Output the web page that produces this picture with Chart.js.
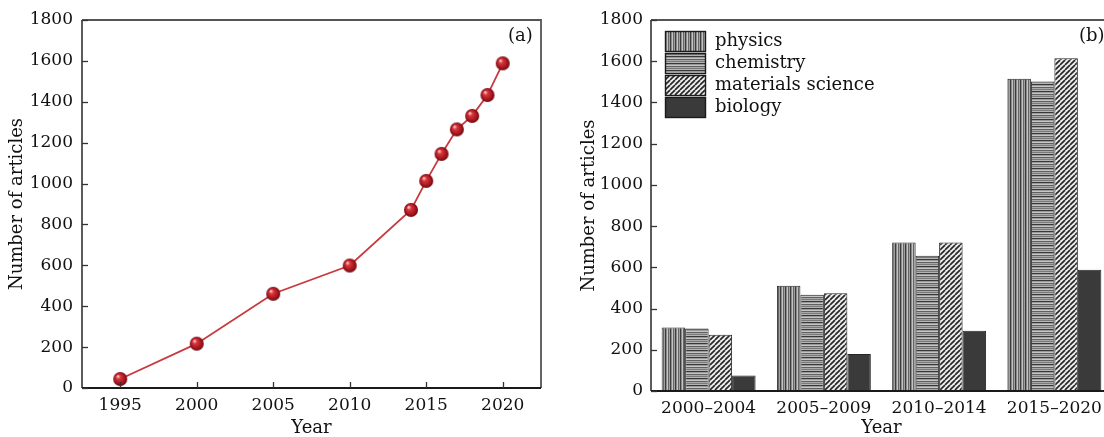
<!DOCTYPE html>
<html><head><meta charset="utf-8">
<script src="https://cdn.jsdelivr.net/npm/chart.js@4.4.0/dist/chart.umd.min.js"></script>
<style>
html,body{margin:0;padding:0;background:#fff;overflow:hidden;width:1104px;height:437px;}
#c1{position:absolute;left:0;top:0;}
#c2{position:absolute;left:560px;top:0;}
</style></head><body>
<canvas id="c1" width="550" height="437"></canvas>
<canvas id="c2" width="560" height="437"></canvas>
<script>
// ---- data: panel (a)
const years = [1995, 2000, 2005, 2010, 2014, 2015, 2016, 2017, 2018, 2019, 2020];
const articles = [44, 217, 461, 599, 871, 1013, 1145, 1265, 1331, 1433, 1588];
const yearTicks = [1995, 2000, 2005, 2010, 2015, 2020];
const articleTicks = [0, 200, 400, 600, 800, 1000, 1200, 1400, 1600, 1800];

// ---- data: panel (b)
const periods = ['2000–2004', '2005–2009', '2010–2014', '2015–2020'];
const physics = [308, 511, 721, 1515];
const chemistry = [303, 467, 656, 1502];
const materials = [273, 474, 720, 1615];
const biology = [75, 180, 292, 588];
const seriesNames = ['physics', 'chemistry', 'materials science', 'biology'];
const yAxisTitle = 'Number of articles';
const xAxisTitle = 'Year';

Chart.defaults.font.family = "'DejaVu Serif', serif";
Chart.defaults.font.size = 17;
Chart.defaults.color = '#111';

function tile(w, h, draw) {
  const c = document.createElement('canvas'); c.width = w; c.height = h;
  const g = c.getContext('2d'); draw(g);
  return g.createPattern(c, 'repeat');
}
const patPhysics = tile(5, 1, g => {
  const cols = ['#3c3c3c', '#8a8a8a', '#c4c4c4', '#666666', '#a0a0a0'];
  cols.forEach((c, i) => { g.fillStyle = c; g.fillRect(i, 0, 1, 1); });
});
const patChem = tile(1, 7, g => {
  const cols = ['#383838', '#9a9a9a', '#c6c6c6', '#606060', '#a8a8a8', '#7a7a7a', '#b4b4b4'];
  cols.forEach((c, i) => { g.fillStyle = c; g.fillRect(0, i, 1, 1); });
});
const patMat = tile(5, 5, g => {
  g.fillStyle = '#eeeeee'; g.fillRect(0, 0, 5, 5);
  g.strokeStyle = '#262626'; g.lineWidth = 1.7;
  for (let k = -1; k <= 1; k++) { g.beginPath(); g.moveTo(k * 5, 5); g.lineTo(k * 5 + 5, 0); g.stroke(); }
});
const fills = [patPhysics, patChem, patMat, '#3a3a3a'];

function sphere(r) {
  const s = 2 * r + 2; const c = document.createElement('canvas'); c.width = s; c.height = s;
  const g = c.getContext('2d'); const cx = s / 2, cy = s / 2;
  const grad = g.createRadialGradient(cx - r * 0.35, cy - r * 0.4, r * 0.08, cx, cy, r);
  grad.addColorStop(0, '#f7c4c4'); grad.addColorStop(0.25, '#d9363d');
  grad.addColorStop(0.75, '#a3141c'); grad.addColorStop(1, '#6a080d');
  g.fillStyle = grad; g.beginPath(); g.arc(cx, cy, r, 0, Math.PI * 2); g.fill();
  return c;
}

const framePlugin = {
  id: 'framePlug',
  afterDraw(chart, args, opts) {
    const ctx = chart.ctx, a = chart.chartArea;
    ctx.save();
    ctx.strokeStyle = '#555'; ctx.lineWidth = 1.8;
    ctx.beginPath(); ctx.moveTo(a.left, a.top); ctx.lineTo(a.right, a.top); ctx.lineTo(a.right, a.bottom); ctx.stroke();
    ctx.strokeStyle = '#333'; ctx.lineWidth = 1.6;
    ctx.beginPath(); ctx.moveTo(a.left, a.top); ctx.lineTo(a.left, a.bottom); ctx.stroke();
    ctx.strokeStyle = '#1a1a1a'; ctx.lineWidth = 2.2;
    ctx.beginPath(); ctx.moveTo(a.left, a.bottom); ctx.lineTo(a.right, a.bottom); ctx.stroke();
    ctx.strokeStyle = '#333'; ctx.lineWidth = 1.3;
    const ys = chart.scales.y;
    ys.ticks.forEach(t => {
      const p = Math.round(ys.getPixelForValue(t.value)) + 0.5;
      ctx.beginPath(); ctx.moveTo(a.left, p); ctx.lineTo(a.left + 6, p); ctx.stroke();
    });
    if (opts.xTicks) {
      const xs = chart.scales.x;
      xs.ticks.forEach(t => {
        const p = Math.round(xs.getPixelForValue(t.value)) + 0.5;
        ctx.beginPath(); ctx.moveTo(p, a.bottom); ctx.lineTo(p, a.bottom - 6); ctx.stroke();
      });
    }
    ctx.fillStyle = '#111'; ctx.font = "18px 'DejaVu Serif'";
    ctx.textAlign = 'left'; ctx.textBaseline = 'middle';
    ctx.fillText(opts.label, a.right + opts.labelDx, a.top + 16);
    if (opts.legend) {
      chart.data.datasets.forEach((ds, i) => {
        const bx = a.left + 14, by = a.top + 11 + i * 22;
        ctx.fillStyle = ds.backgroundColor; ctx.fillRect(bx, by, 40, 20);
        ctx.strokeStyle = '#1a1a1a'; ctx.lineWidth = 1.4; ctx.strokeRect(bx + 0.5, by + 0.5, 40, 20);
        ctx.fillStyle = '#111'; ctx.textAlign = 'left'; ctx.textBaseline = 'middle';
        ctx.fillText(ds.label, bx + 50, by + 10);
      });
    }
    ctx.restore();
  }
};

const titleFont = { size: 18, lineHeight: 1 };
const noGrid = { display: false, drawTicks: false };

new Chart(document.getElementById('c1'), {
  type: 'line',
  data: {
    datasets: [{
      data: years.map((y, i) => ({ x: y, y: articles[i] })),
      borderColor: '#c9393e', borderWidth: 1.8,
      pointStyle: sphere(7), pointRadius: 7, tension: 0
    }]
  },
  options: {
    responsive: false, animation: false,
    layout: { padding: { top: 20, right: 9, left: 0, bottom: 0 } },
    plugins: { legend: { display: false }, tooltip: { enabled: false },
      framePlug: { label: '(a)', labelDx: -33, xTicks: true } },
    scales: {
      x: {
        type: 'linear', min: 1992.5, max: 2022.5,
        afterBuildTicks: s => { s.ticks = yearTicks.map(v => ({ value: v })); },
        afterFit: s => { s.height = 49; },
        grid: noGrid, border: { display: false },
        ticks: { padding: 7, maxRotation: 0, autoSkip: false, callback: v => String(v) },
        title: { display: true, text: xAxisTitle, font: titleFont, padding: { top: 0, bottom: 0 } }
      },
      y: {
        min: 0, max: 1800,
        afterBuildTicks: s => { s.ticks = articleTicks.map(v => ({ value: v })); },
        afterFit: s => { s.width = 82; },
        grid: noGrid, border: { display: false },
        ticks: { padding: 9, autoSkip: false, callback: v => String(v) },
        title: { display: true, text: yAxisTitle, font: titleFont, padding: { top: 8.5, bottom: 0 } }
      }
    }
  },
  plugins: [framePlugin]
});

const bars = [physics, chemistry, materials, biology];
new Chart(document.getElementById('c2'), {
  type: 'bar',
  data: {
    labels: periods,
    datasets: bars.map((d, i) => ({
      label: seriesNames[i], data: d,
      backgroundColor: fills[i], borderColor: '#262626', borderWidth: 1,
      categoryPercentage: 0.815, barPercentage: 1.0
    }))
  },
  options: {
    responsive: false, animation: false,
    layout: { padding: { top: 20, right: 8, left: 0, bottom: 0 } },
    plugins: { legend: { display: false }, tooltip: { enabled: false },
      framePlug: { label: '(b)', labelDx: -33, xTicks: false, legend: true } },
    scales: {
      x: {
        afterFit: s => { s.height = 46; },
        grid: noGrid, border: { display: false },
        ticks: { padding: 7, maxRotation: 0, autoSkip: false },
        title: { display: true, text: xAxisTitle, font: titleFont, padding: { top: 0, bottom: 0 } }
      },
      y: {
        min: 0, max: 1800,
        afterBuildTicks: s => { s.ticks = articleTicks.map(v => ({ value: v })); },
        afterFit: s => { s.width = 91; },
        grid: noGrid, border: { display: false },
        ticks: { padding: 8, autoSkip: false, callback: v => String(v) },
        title: { display: true, text: yAxisTitle, font: titleFont, padding: { top: 20.5, bottom: 0 } }
      }
    }
  },
  plugins: [framePlugin]
});
</script>
</body></html>
